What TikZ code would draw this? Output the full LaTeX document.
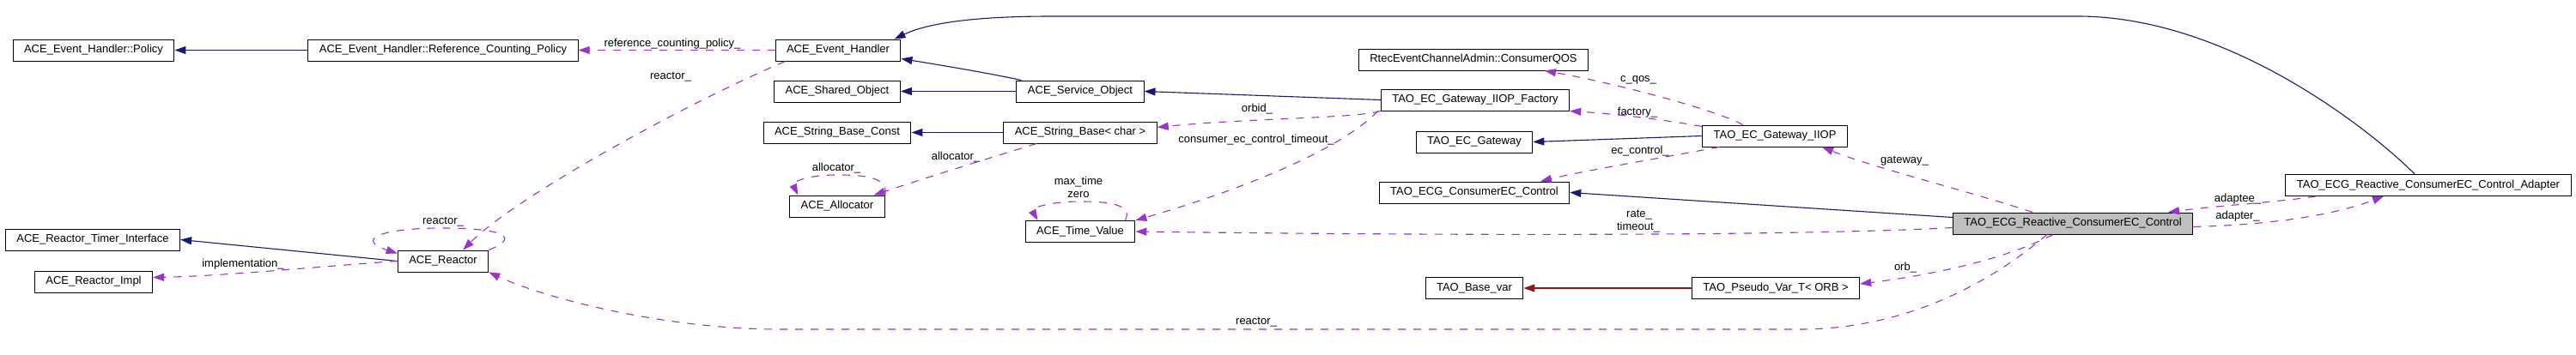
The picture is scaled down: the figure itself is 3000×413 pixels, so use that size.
\documentclass[tikz,border=0pt]{standalone}
\usepackage{fontspec}
\setmainfont{Liberation Sans}
\usetikzlibrary{arrows.meta}

\definecolor{inhcolor}{HTML}{191970}
\definecolor{usecolor}{HTML}{9A32CD}
\definecolor{tplcolor}{HTML}{8B1A1A}
\definecolor{focuscolor}{HTML}{BFBFBF}

\begin{document}
\begin{tikzpicture}[x=1pt, y=-1pt,
        every node/.style={font=\fontsize{13}{15}\selectfont},
        cls/.style={draw, line width=1pt, minimum height=25pt, inner xsep=13pt, inner ysep=0pt},
        inh/.style={draw=inhcolor, line width=1.1pt, -{Triangle[length=13pt, width=9pt]}},
        tpl/.style={draw=tplcolor, line width=1.1pt, -{Triangle[length=13pt, width=9pt]}},
        use/.style={draw=usecolor, line width=1.1pt, dash pattern=on 9pt off 9pt, -{Triangle[length=13pt, width=9pt]}}
    ]
        \useasboundingbox (0,0) rectangle (3000,413);

        % Các lớp
        \node [cls] (policy) at (109,58.5) {ACE\_Event\_Handler::Policy};
        \node [cls] (refpolicy) at (516,58.5) {ACE\_Event\_Handler::Reference\_Counting\_Policy};
        \node [cls] (evhandler) at (976,58.5) {ACE\_Event\_Handler};
        \node [cls] (sharedobj) at (975,106.5) {ACE\_Shared\_Object};
        \node [cls] (serviceobj) at (1258,106.5) {ACE\_Service\_Object};
        \node [cls] (strconst) at (975,154.5) {ACE\_String\_Base\_Const};
        \node [cls] (strbase) at (1258,154.5) {ACE\_String\_Base< char >};
        \node [cls] (allocator) at (975,240.5) {ACE\_Allocator};
        \node [cls] (timevalue) at (1258,270) {ACE\_Time\_Value};
        \node [cls] (timerif) at (108,279.5) {ACE\_Reactor\_Timer\_Interface};
        \node [cls] (reactor) at (516,304.5) {ACE\_Reactor};
        \node [cls] (reactorimpl) at (109,328.5) {ACE\_Reactor\_Impl};
        \node [cls] (consumerqos) at (1716,69.5) {RtecEventChannelAdmin::ConsumerQOS};
        \node [cls] (factory) at (1718,116.5) {TAO\_EC\_Gateway\_IIOP\_Factory};
        \node [cls] (ecgateway) at (1717,165.5) {TAO\_EC\_Gateway};
        \node [cls] (consumerctrl) at (1717,224.5) {TAO\_ECG\_ConsumerEC\_Control};
        \node [cls] (basevar) at (1717,336) {TAO\_Base\_var};
        \node [cls] (gatewayiiop) at (2067,158.5) {TAO\_EC\_Gateway\_IIOP};
        \node [cls] (pseudovar) at (2068,336) {TAO\_Pseudo\_Var\_T< ORB >};
        \node [cls, fill=focuscolor] (reactive) at (2414,260.5) {TAO\_ECG\_Reactive\_ConsumerEC\_Control};
        \node [cls] (adapter) at (2828,216) {TAO\_ECG\_Reactive\_ConsumerEC\_Control\_Adapter};

        % Kế thừa
        \draw[inh] (refpolicy.west) -- (policy.east);
        \draw[inh] ([xshift=6pt]serviceobj.north west) .. controls (1150,85) and (1090,75) .. ([yshift=3pt]evhandler.south east);
        \draw[inh] (serviceobj.west) -- (sharedobj.east);
        \draw[inh] (factory.west) -- (serviceobj.east);
        \draw[inh] (strbase.west) -- (strconst.east);
        \draw[inh] (gatewayiiop.west) -- (ecgateway.east);
        \draw[inh] ([yshift=7pt]reactive.west) -- (consumerctrl.east);
        \draw[inh] (reactor.west) -- (timerif.east);
        \draw[inh] ([xshift=-16pt]adapter.north) .. controls (2770,160) and (2600,19) .. (2420,19) -- (1224,19) .. controls (1110,19) and (1070,32) .. ([xshift=-8pt]evhandler.north east);
        \draw[tpl] (pseudovar.west) -- (basevar.east);

        % Thành viên
        \draw[use] (evhandler.west) -- (refpolicy.east);
        \draw[use] ([xshift=12pt]evhandler.south west) .. controls (800,120) and (600,230) .. ([xshift=-30pt]reactor.north east);
        \draw[use] (reactor.north east) .. controls (610,275) and (580,266) .. (515,266) .. controls (440,266) and (415,280) .. ([yshift=-4pt]reactor.north west);
        \draw[use] (reactor.west) .. controls (380,310) and (260,322) .. ([yshift=5pt]reactorimpl.east);
        \draw[use] ([xshift=-51pt]strbase.south) .. controls (1150,185) and (1070,210) .. ([xshift=-13pt]allocator.north east);
        \draw[use] (allocator.north east) .. controls (1035,206) and (1005,204) .. (975,204) .. controls (940,204) and (922,212) .. ([xshift=10pt]allocator.north west);
        \draw[use] (factory.south west) .. controls (1580,138) and (1450,138) .. ([yshift=6pt]strbase.east);
        \draw[use] ([xshift=-3pt]factory.south west) .. controls (1560,175) and (1450,220) .. (timevalue.north east);
        \draw[use] ([xshift=-12pt]timevalue.north east) .. controls (1320,238) and (1290,235) .. (1258,235) .. controls (1225,235) and (1200,242) .. ([xshift=15pt]timevalue.north west);
        \draw[use] ([yshift=-2pt]gatewayiiop.north west) .. controls (1930,138) and (1870,132) .. (factory.south east);
        \draw[use] ([xshift=-37pt]gatewayiiop.north) .. controls (1990,125) and (1870,95) .. ([xshift=83pt]consumerqos.south);
        \draw[use] ([xshift=-65pt]gatewayiiop.south) .. controls (1930,185) and (1840,200) .. ([xshift=77pt]consumerctrl.north);
        \draw[use] ([xshift=-47pt]reactive.north) .. controls (2300,225) and (2180,195) .. ([xshift=55pt]gatewayiiop.south);
        \draw[use] ([yshift=-5pt]reactive.west) .. controls (2100,275) and (1700,275) .. (timevalue.east);
        \draw[use] ([xshift=-131pt]adapter.south) .. controls (2650,236) and (2580,240) .. ([xshift=111pt]reactive.north);
        \draw[use] ([yshift=-4pt]reactive.east) .. controls (2650,262) and (2720,250) .. ([xshift=-52pt]adapter.south);
        \draw[use] ([xshift=-23pt]reactive.south) .. controls (2330,305) and (2240,322) .. ([yshift=5pt]pseudovar.east);
        \draw[use] ([xshift=-30pt]reactive.south) .. controls (2300,345) and (2200,384) .. (2096,384) -- (908,384) .. controls (780,384) and (640,350) .. (reactor.south east);

        % Nhãn
        \node (lrefpol) at (783,51) {reference\_counting\_policy\_};
        \node (lreactora) at (781,90) {reactor\_};
        \node (lreactorb) at (516,259) {reactor\_};
        \node (limpl) at (283,308) {implementation\_};
        \node (lalloca) at (1113,183) {allocator\_};
        \node (lallocb) at (974,196) {allocator\_};
        \node (lorbid) at (1464,127) {orbid\_};
        \node (ltimeouta) at (1463,163) {consumer\_ec\_control\_timeout\_};
        \node (lmaxtime) at (1256,212) {max\_time};
        \node (lzero) at (1256,227) {zero};
        \node (lcqos) at (1908,93) {c\_qos\_};
        \node (lfactory) at (1907,131) {factory\_};
        \node (lecctrl) at (1910,176) {ec\_control\_};
        \node (lgateway) at (2218,188) {gateway\_};
        \node (lrate) at (1909,251) {rate\_};
        \node (ltimeoutb) at (1908,265) {timeout\_};
        \node (ladaptee) at (2606,232) {adaptee\_};
        \node (ladapter) at (2606,252) {adapter\_};
        \node (lorb) at (2219,312) {orb\_};
        \node (lreactorc) at (1463,376) {reactor\_};
    \end{tikzpicture}
\end{document}
